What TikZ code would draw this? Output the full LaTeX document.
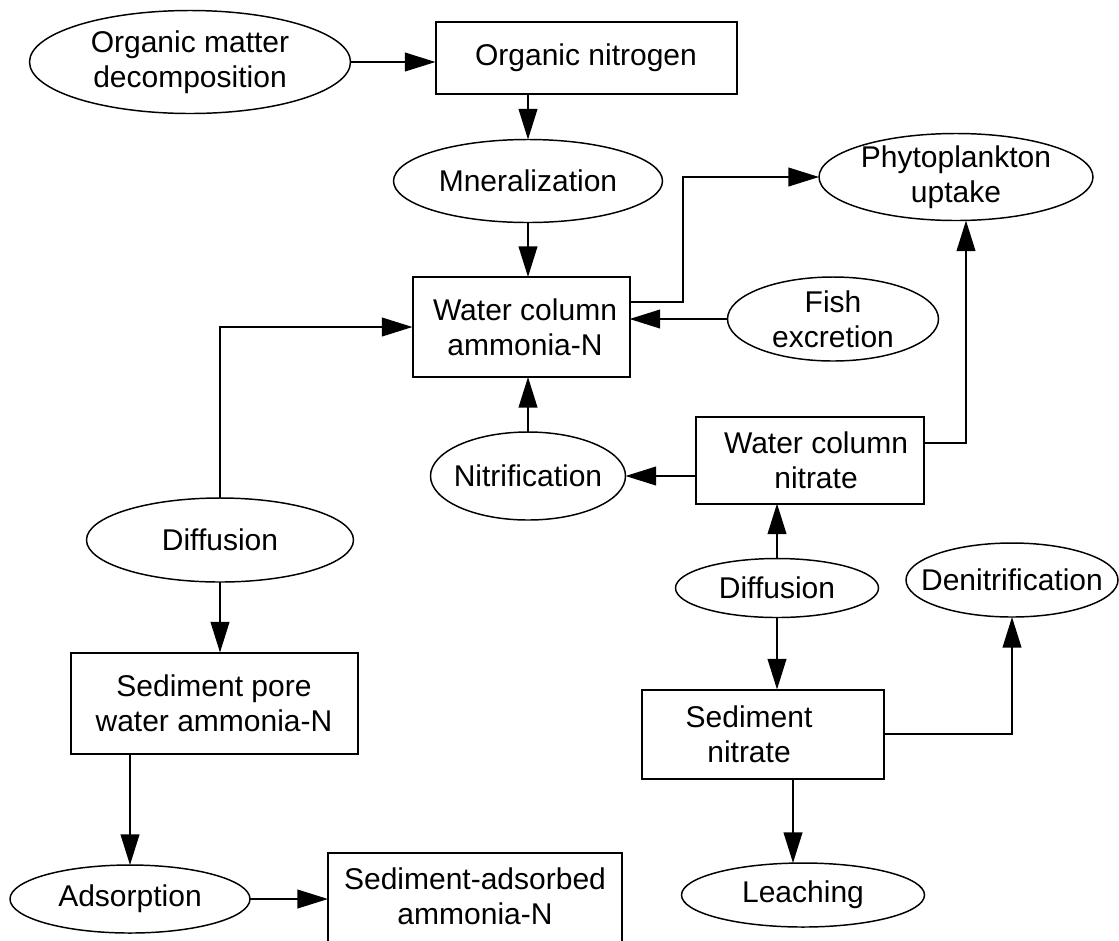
\documentclass[tikz,border=0pt]{standalone}
\usepackage{fontspec}
\setmainfont{Liberation Sans}
\usetikzlibrary{shapes.geometric,arrows.meta,calc}
\newdimen\pxu \pxu=0.75pt
\begin{document}
\begin{tikzpicture}[x=0.75pt,y=-0.75pt,
  font=\fontsize{22.5pt}{26.25pt}\selectfont,
  base/.style={inner sep=0pt, outer sep=0pt},
  boxn/.style={base, draw, rectangle, line width=1.5pt},
  elln/.style={base, draw, ellipse, line width=1.1pt},
  lbl/.style={align=center, inner sep=0pt, draw=none},
  arr/.style={line width=1.5pt, -{Triangle[length=23pt,width=14pt]}},
]
\useasboundingbox (0,0) rectangle (1119,940);

% nodes
\node[elln, minimum width=321\pxu, minimum height=103\pxu,
  label={[lbl]center:{Organic matter\\decomposition}}] (om) at (190,62) {};
\node[boxn, minimum width=301\pxu, minimum height=72\pxu,
  label={[lbl]center:{Organic nitrogen}}] (on) at (586,58) {};
\node[elln, minimum width=269\pxu, minimum height=83\pxu,
  label={[lbl]center:{Mneralization}}] (min) at (528,181) {};
\node[elln, minimum width=274\pxu, minimum height=87\pxu,
  label={[lbl]center:{Phytoplankton\\uptake}}] (phy) at (956,177) {};
\node[boxn, minimum width=217\pxu, minimum height=100\pxu,
  label={[lbl,xshift=3pt]center:{Water column\\ammonia-N}}] (wca) at (521,327) {};
\node[elln, minimum width=211\pxu, minimum height=84\pxu,
  label={[lbl]center:{Fish\\excretion}}] (fish) at (833,319) {};
\node[boxn, minimum width=228\pxu, minimum height=87\pxu,
  label={[lbl,xshift=4.5pt]center:{Water column\\nitrate}}] (wcn) at (810,460) {};
\node[elln, minimum width=195\pxu, minimum height=88\pxu,
  label={[lbl]center:{Nitrification}}] (nit) at (528,476) {};
\node[elln, minimum width=267\pxu, minimum height=84\pxu,
  label={[lbl]center:{Diffusion}}] (difL) at (220,540) {};
\node[elln, minimum width=203\pxu, minimum height=59\pxu,
  label={[lbl]center:{Diffusion}}] (difR) at (777,588) {};
\node[elln, minimum width=212\pxu, minimum height=74\pxu,
  label={[lbl]center:{Denitrification}}] (den) at (1012,580) {};
\node[boxn, minimum width=287\pxu, minimum height=101\pxu,
  label={[lbl]center:{Sediment pore\\water ammonia-N}}] (spw) at (214,703) {};
\node[boxn, minimum width=242\pxu, minimum height=89\pxu,
  label={[lbl,xshift=-10.5pt]center:{Sediment\\nitrate}}] (sn) at (763,734) {};
\node[elln, minimum width=240\pxu, minimum height=68\pxu,
  label={[lbl]center:{Adsorption}}] (ads) at (130,899) {};
\node[boxn, minimum width=294\pxu, minimum height=96\pxu,
  label={[lbl,yshift=3.75pt]center:{Sediment-adsorbed\\ammonia-N}}] (sab) at (475,901) {};
\node[elln, minimum width=243\pxu, minimum height=64\pxu,
  label={[lbl]center:{Leaching}}] (leach) at (803,895) {};

% connectors
\draw[arr] (om.east) -- (om.east -| on.west);
\draw[arr] (min.north |- on.south) -- (min.north);
\draw[arr] (min.south) -- (min.south |- wca.north);
\draw[arr] ($(wca.east)+(0,-25)$) -- ++(53,0) |- (phy.west);
\draw[arr] (fish.west) -- (fish.west -| wca.east);
\draw[arr] ($(wcn.east)+(0,-17)$) -| ($(phy.south)+(10,0)$);
\draw[arr] (wcn.west |- nit.east) -- (nit.east);
\draw[arr] (nit.north) -- (nit.north |- wca.south);
\draw[arr] (difL.north) |- (wca.west);
\draw[arr] (difL.south) -- (difL.south |- spw.north);
\draw[arr] (ads.north |- spw.south) -- (ads.north);
\draw[arr] (ads.east) -- (ads.east -| sab.west);
\draw[arr] (difR.north) -- (difR.north |- wcn.south);
\draw[arr] (difR.south) -- (difR.south |- sn.north);
\draw[arr] ($(sn.south)+(30,0)$) -- ($(leach.north)+(-10,0)$);
\draw[arr] (sn.east) -| (den.south);
\end{tikzpicture}
\end{document}
